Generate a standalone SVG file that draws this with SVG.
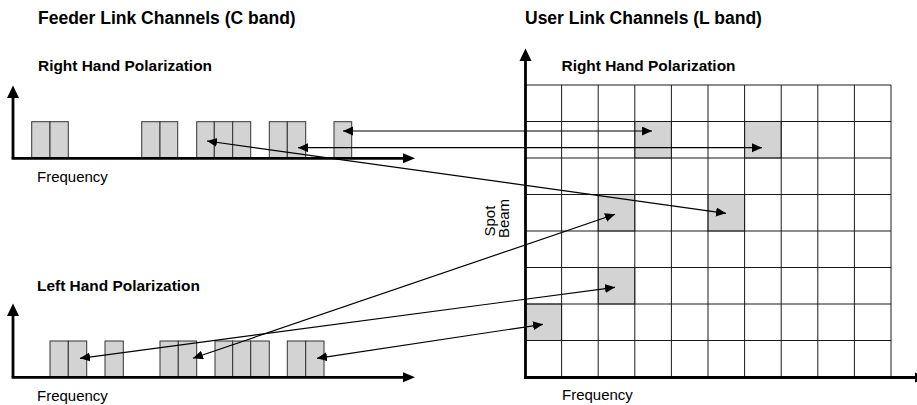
<svg xmlns="http://www.w3.org/2000/svg" width="917" height="405" viewBox="0 0 917 405">
  <style>
    text { font-family: "Liberation Sans", Arial, sans-serif; fill: #000; }
    .title { font-size: 17.5px; font-weight: bold; }
    .cap { font-size: 14.5px; font-weight: bold; }
    .lbl { font-size: 15px; }
    .axis { stroke: #000; stroke-width: 2.8; fill: none; }
    .ch { fill: #d3d3d3; stroke: #333; stroke-width: 1; }
    .cell { fill: #d3d3d3; stroke: #555; stroke-width: 1; }
    .grid line { stroke: #1a1a1a; stroke-width: 1; }
    .link { stroke: #000; stroke-width: 1.2; fill: none; marker-start: url(#tip); marker-end: url(#tip); }
  </style>
  <defs>
    <marker id="tip" markerUnits="userSpaceOnUse" markerWidth="12" markerHeight="10" refX="10" refY="4.5" orient="auto-start-reverse">
      <path d="M0,0 L10,4.5 L0,9 z" fill="#000"/>
    </marker>
  </defs>
  <rect width="917" height="405" fill="#fff"/>

  <!-- headings -->
  <g id="headings">
    <text class="title" x="38" y="24">Feeder Link Channels (C band)</text>
    <text class="title" x="525" y="24">User Link Channels (L band)</text>
  </g>

  <!-- feeder link, right hand polarization -->
  <g id="feeder-rhp">
    <text class="cap" x="38" y="71" textLength="174" lengthAdjust="spacingAndGlyphs">Right Hand Polarization</text>
    <rect class="ch" x="31.7" y="121.7" width="18.3" height="36.6"/>
    <rect class="ch" x="50" y="121.7" width="18.3" height="36.6"/>
    <rect class="ch" x="141.7" y="121.7" width="18.3" height="36.6"/>
    <rect class="ch" x="160" y="121.7" width="17.7" height="36.6"/>
    <rect class="ch" x="196.7" y="121.7" width="17.6" height="36.6"/>
    <rect class="ch" x="214.3" y="121.7" width="18.4" height="36.6"/>
    <rect class="ch" x="232.7" y="121.7" width="18" height="36.6"/>
    <rect class="ch" x="269.3" y="121.7" width="18" height="36.6"/>
    <rect class="ch" x="287.3" y="121.7" width="18.4" height="36.6"/>
    <rect class="ch" x="334" y="121.7" width="17.7" height="36.6"/>
    <line class="axis" x1="13" y1="158.3" x2="13" y2="97"/>
    <line class="axis" x1="11.6" y1="158.3" x2="404" y2="158.3"/>
    <path d="M13,85.5 L19,98 L7,98 z"/>
    <path d="M415,158.3 L403,153.3 L403,163.3 z"/>
    <text class="lbl" x="37" y="181.5">Frequency</text>
  </g>

  <!-- feeder link, left hand polarization -->
  <g id="feeder-lhp">
    <text class="cap" x="37" y="291" textLength="163" lengthAdjust="spacingAndGlyphs">Left Hand Polarization</text>
    <rect class="ch" x="50" y="341" width="18.3" height="36.3"/>
    <rect class="ch" x="68.3" y="341" width="18.4" height="36.3"/>
    <rect class="ch" x="105" y="341" width="18.3" height="36.3"/>
    <rect class="ch" x="160" y="341" width="18.3" height="36.3"/>
    <rect class="ch" x="178.3" y="341" width="18.4" height="36.3"/>
    <rect class="ch" x="215" y="341" width="17.7" height="36.3"/>
    <rect class="ch" x="232.7" y="341" width="18" height="36.3"/>
    <rect class="ch" x="250.7" y="341" width="18.6" height="36.3"/>
    <rect class="ch" x="287.3" y="341" width="18.4" height="36.3"/>
    <rect class="ch" x="305.7" y="341" width="18.3" height="36.3"/>
    <line class="axis" x1="13" y1="377.3" x2="13" y2="315"/>
    <line class="axis" x1="11.6" y1="377.3" x2="404" y2="377.3"/>
    <path d="M13,303.5 L19,316 L7,316 z"/>
    <path d="M415,377.3 L403,372.3 L403,382.3 z"/>
    <text class="lbl" x="37" y="401">Frequency</text>
  </g>

  <!-- user link spot beam grid -->
  <g id="user-grid">
    <text class="cap" x="561.5" y="71" textLength="174" lengthAdjust="spacingAndGlyphs">Right Hand Polarization</text>
    <rect class="cell" x="634.8" y="121.5" width="36.6" height="36.5"/>
    <rect class="cell" x="744.6" y="121.5" width="36.6" height="36.5"/>
    <rect class="cell" x="598.2" y="194.5" width="36.6" height="36.5"/>
    <rect class="cell" x="708" y="194.5" width="36.6" height="36.5"/>
    <rect class="cell" x="598.2" y="267.5" width="36.6" height="36.5"/>
    <rect class="cell" x="525" y="304" width="36.6" height="36.5"/>
    <g class="grid">
      <line x1="525" y1="85" x2="891" y2="85"/>
      <line x1="525" y1="121.5" x2="891" y2="121.5"/>
      <line x1="525" y1="158" x2="891" y2="158"/>
      <line x1="525" y1="194.5" x2="891" y2="194.5"/>
      <line x1="525" y1="231" x2="891" y2="231"/>
      <line x1="525" y1="267.5" x2="891" y2="267.5"/>
      <line x1="525" y1="304" x2="891" y2="304"/>
      <line x1="525" y1="340.5" x2="891" y2="340.5"/>
      <line x1="561.6" y1="85" x2="561.6" y2="377"/>
      <line x1="598.2" y1="85" x2="598.2" y2="377"/>
      <line x1="634.8" y1="85" x2="634.8" y2="377"/>
      <line x1="671.4" y1="85" x2="671.4" y2="377"/>
      <line x1="708" y1="85" x2="708" y2="377"/>
      <line x1="744.6" y1="85" x2="744.6" y2="377"/>
      <line x1="781.2" y1="85" x2="781.2" y2="377"/>
      <line x1="817.8" y1="85" x2="817.8" y2="377"/>
      <line x1="854.4" y1="85" x2="854.4" y2="377"/>
      <line x1="891" y1="85" x2="891" y2="377"/>
    </g>
    <line class="axis" x1="525.5" y1="377.5" x2="525.5" y2="60"/>
    <line class="axis" x1="524.1" y1="377.5" x2="917" y2="377.5"/>
    <path d="M525.5,48.5 L531.5,61 L519.5,61 z"/>
    <path d="M927,377.5 L915,372.5 L915,382.5 z"/>
    <text class="lbl" x="562" y="400">Frequency</text>
    <text class="lbl" transform="rotate(-90)" text-anchor="middle">
      <tspan x="-219" y="495">Spot</tspan>
      <tspan x="-218.5" y="509">Beam</tspan>
    </text>
  </g>

  <!-- channel-to-beam mappings -->
  <g id="connectors">
    <line class="link" x1="343" y1="131" x2="652" y2="131"/>
    <line class="link" x1="298" y1="147.7" x2="762" y2="147.7"/>
    <line class="link" x1="207" y1="141" x2="726" y2="213.3"/>
    <line class="link" x1="80" y1="358.3" x2="615" y2="287.3"/>
    <line class="link" x1="193" y1="358.3" x2="615" y2="214.3"/>
    <line class="link" x1="317" y1="358.3" x2="543" y2="324.3"/>
  </g>
</svg>
